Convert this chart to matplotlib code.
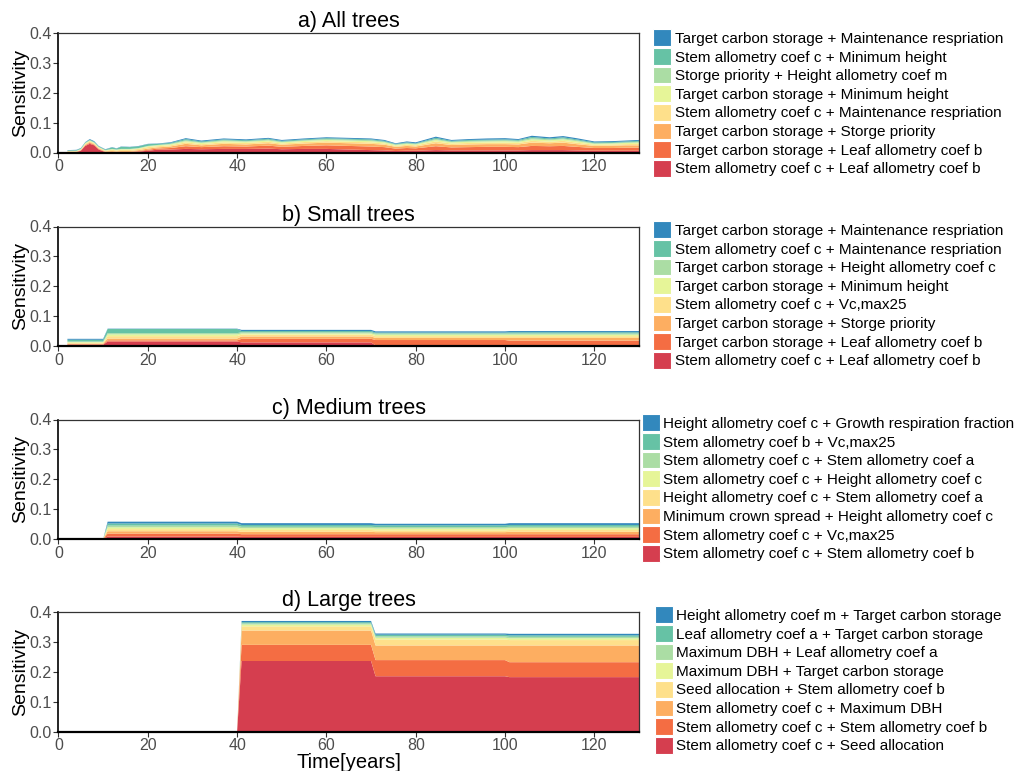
import matplotlib
matplotlib.use("Agg")
import matplotlib.pyplot as plt
from matplotlib.patches import Patch

plt.rcParams["font.family"] = ["Liberation Sans", "DejaVu Sans"]

# Spectral palette, bottom (red) to top (blue)
COLORS = ["#D53E4F", "#F46D43", "#FDAE61", "#FEE08B", "#E6F598", "#ABDDA4", "#66C2A5", "#3288BD"]

# ---- a) All trees ---------------------------------------------------------
x_a = [2, 4, 5, 6, 7, 8, 9, 10.5, 12, 13, 14, 16, 18, 20, 22, 25, 28.5, 32, 37, 42, 47, 50,
       55, 60, 65, 70, 73, 75.5, 78, 80, 84.5, 88, 92, 96, 100, 103, 106, 110, 113, 116,
       120, 124, 127, 130]
a_red = [.001, .001, .006, .022, .029, .024, .010, .001, .001, .001, .001, .001, .003, .006, .009, .010,
         .012, .011, .012, .012, .013, .011, .012, .012, .010, .008, .007, .005, .006, .006, .008, .007,
         .007, .007, .007, .007, .008, .008, .008, .007, .006, .006, .006, .006]
a_ored = [.001, .001, .001, .002, .003, .002, .002, .001, .001, .001, .001, .001, .002, .003, .004, .005,
          .009, .007, .009, .008, .010, .008, .010, .012, .012, .012, .011, .008, .009, .008, .013, .010,
          .011, .012, .012, .011, .014, .013, .014, .012, .009, .009, .010, .010]
a_lor = [.001, .001, .001, .002, .003, .002, .002, .002, .003, .002, .003, .003, .003, .004, .004, .005,
         .008, .006, .008, .007, .008, .007, .008, .009, .009, .009, .008, .006, .007, .006, .010, .008,
         .009, .009, .009, .009, .011, .010, .011, .009, .007, .008, .008, .008]
a_yel = [.001, .001, .002, .003, .003, .003, .003, .002, .004, .003, .004, .004, .004, .005, .004, .004,
         .005, .004, .005, .005, .005, .004, .005, .005, .005, .005, .004, .003, .004, .004, .006, .005,
         .005, .005, .005, .005, .006, .005, .006, .005, .004, .004, .004, .005]
a_lyel = [.001, .001, .001, .002, .002, .002, .001, .001, .002, .002, .002, .002, .002, .003, .003, .003,
          .004, .004, .004, .004, .004, .004, .004, .004, .004, .004, .004, .003, .003, .003, .005, .004,
          .004, .004, .005, .004, .005, .005, .005, .005, .003, .003, .004, .004]
a_lgrn = [.001, .001, .001, .001, .001, .001, .001, .001, .001, .001, .001, .001, .001, .001, .001, .002,
          .003, .002, .003, .002, .003, .002, .002, .003, .003, .003, .002, .002, .002, .002, .003, .002,
          .003, .003, .003, .003, .004, .003, .003, .003, .002, .002, .002, .003]
a_teal = [.001, .002, .002, .002, .002, .002, .002, .002, .005, .003, .007, .006, .006, .006, .004, .003,
          .004, .003, .003, .003, .003, .003, .003, .003, .003, .003, .003, .002, .003, .002, .004, .003,
          .003, .003, .003, .003, .004, .003, .004, .003, .003, .003, .003, .003]
a_blue = [.001, .001, .001, .001, .002, .002, .001, .001, .001, .001, .001, .001, .001, .001, .001, .002,
          .003, .003, .003, .003, .003, .003, .003, .003, .003, .003, .003, .002, .003, .003, .004, .003,
          .003, .004, .004, .003, .004, .004, .004, .004, .003, .003, .003, .003]
labels_a = [
    "Stem allometry coef c + Leaf allometry coef b",
    "Target carbon storage + Leaf allometry coef b",
    "Target carbon storage + Storge priority",
    "Stem allometry coef c + Maintenance respriation",
    "Target carbon storage + Minimum height",
    "Storge priority + Height allometry coef m",
    "Stem allometry coef c + Minimum height",
    "Target carbon storage + Maintenance respriation",
]

# ---- b) Small trees -------------------------------------------------------
x_b = [2, 10, 11, 40, 41, 70, 71, 100, 101, 130]
b_red = [.004, .004, .015, .015, .012, .012, .002, .002, .002, .002]
b_ored = [.002, .002, .004, .004, .012, .012, .018, .018, .016, .016]
b_lor = [.002, .002, .006, .006, .008, .008, .007, .007, .009, .009]
b_yel = [.003, .003, .008, .008, .006, .006, .006, .006, .006, .006]
b_lyel = [.002, .002, .006, .006, .004, .004, .005, .005, .005, .005]
b_lgrn = [.002, .002, .004, .004, .004, .004, .004, .004, .004, .004]
b_teal = [.006, .006, .014, .014, .004, .004, .003, .003, .004, .004]
b_blue = [.003, .003, .001, .001, .004, .004, .004, .004, .004, .004]
labels_b = [
    "Stem allometry coef c + Leaf allometry coef b",
    "Target carbon storage + Leaf allometry coef b",
    "Target carbon storage + Storge priority",
    "Stem allometry coef c + Vc,max25",
    "Target carbon storage + Minimum height",
    "Target carbon storage + Height allometry coef c",
    "Stem allometry coef c + Maintenance respriation",
    "Target carbon storage + Maintenance respriation",
]

# ---- c) Medium trees ------------------------------------------------------
x_c = [2, 10, 11, 40, 41, 70, 71, 100, 101, 130]
c_red = [0, 0, .008, .008, .007, .007, .007, .007, .007, .007]
c_ored = [0, 0, .010, .010, .009, .009, .009, .009, .009, .009]
c_lor = [0, 0, .008, .008, .008, .008, .007, .007, .008, .008]
c_yel = [0, 0, .007, .007, .006, .006, .006, .006, .006, .006]
c_lyel = [0, 0, .006, .006, .006, .006, .006, .006, .006, .006]
c_lgrn = [0, 0, .006, .006, .005, .005, .005, .005, .005, .005]
c_teal = [0, 0, .007, .007, .006, .006, .006, .006, .006, .006]
c_blue = [0, 0, .006, .006, .006, .006, .005, .005, .006, .006]
labels_c = [
    "Stem allometry coef c + Stem allometry coef b",
    "Stem allometry coef c + Vc,max25",
    "Minimum crown spread + Height allometry coef c",
    "Height allometry coef c + Stem allometry coef a",
    "Stem allometry coef c + Height allometry coef c",
    "Stem allometry coef c + Stem allometry coef a",
    "Stem allometry coef b + Vc,max25",
    "Height allometry coef c + Growth respiration fraction",
]

# ---- d) Large trees -------------------------------------------------------
x_d = [2, 40, 41, 70, 71, 100, 101, 130]
d_red = [0, 0, .236, .236, .185, .185, .182, .182]
d_ored = [0, 0, .054, .054, .054, .054, .050, .050]
d_lor = [0, 0, .048, .048, .049, .049, .056, .056]
d_yel = [0, 0, .014, .014, .020, .020, .018, .018]
d_lyel = [0, 0, .006, .006, .006, .006, .006, .006]
d_lgrn = [0, 0, .004, .004, .005, .005, .005, .005]
d_teal = [0, 0, .004, .004, .005, .005, .005, .005]
d_blue = [0, 0, .004, .004, .004, .004, .005, .005]
labels_d = [
    "Stem allometry coef c + Seed allocation",
    "Stem allometry coef c + Stem allometry coef b",
    "Stem allometry coef c + Maximum DBH",
    "Seed allocation + Stem allometry coef b",
    "Maximum DBH + Target carbon storage",
    "Maximum DBH + Leaf allometry coef a",
    "Leaf allometry coef a + Target carbon storage",
    "Height allometry coef m + Target carbon storage",
]

panels = [
    ("a) All trees", x_a, [a_red, a_ored, a_lor, a_yel, a_lyel, a_lgrn, a_teal, a_blue], labels_a),
    ("b) Small trees", x_b, [b_red, b_ored, b_lor, b_yel, b_lyel, b_lgrn, b_teal, b_blue], labels_b),
    ("c) Medium trees", x_c, [c_red, c_ored, c_lor, c_yel, c_lyel, c_lgrn, c_teal, c_blue], labels_c),
    ("d) Large trees", x_d, [d_red, d_ored, d_lor, d_yel, d_lyel, d_lgrn, d_teal, d_blue], labels_d),
]

W, H = 1020, 771
fig = plt.figure(figsize=(W / 100, H / 100), dpi=100)

ax_left, ax_right = 58.5, 639
ax_tops = [33, 226.5, 419.5, 612]
ax_h = 119.5
legend_centers = [103, 295, 488, 680]

for i, (title, x, layers, labels) in enumerate(panels):
    top = ax_tops[i]
    ax = fig.add_axes([ax_left / W, 1 - (top + ax_h) / H, (ax_right - ax_left) / W, ax_h / H])
    ax.stackplot(x, *layers, colors=COLORS, linewidth=0)
    ax.set_xlim(0, 130)
    ax.set_ylim(0, 0.4)
    ax.set_xticks([0, 20, 40, 60, 80, 100, 120])
    ax.set_yticks([0.0, 0.1, 0.2, 0.3, 0.4])
    ax.set_yticklabels(["0.0", "0.1", "0.2", "0.3", "0.4"])
    ax.tick_params(labelsize=11.5, labelcolor="#4D4D4D", color="#333333", length=3.5, width=0.8, pad=1.5)
    for sp in ax.spines.values():
        sp.set_color("#333333")
        sp.set_linewidth(0.9)
    ax.spines["bottom"].set_color("black")
    ax.spines["bottom"].set_linewidth(1.6)
    ax.spines["left"].set_color("black")
    ax.spines["left"].set_linewidth(1.2)
    ax.set_title(title, fontsize=15.5, pad=4)
    ax.set_ylabel("Sensitivity", fontsize=14, labelpad=0)
    if i == 3:
        ax.set_xlabel("Time[years]", fontsize=14.5, labelpad=0)

    handles = [Patch(facecolor=c, edgecolor="white", linewidth=0.8) for c in COLORS]
    fig.legend(
        handles[::-1], labels[::-1], loc="center",
        bbox_to_anchor=(828 / W, 1 - legend_centers[i] / H),
        frameon=False, fontsize=11, handlelength=1.2, handleheight=1.3,
        handletextpad=0.2, labelspacing=0.13, borderpad=0, borderaxespad=0,
    )

fig.savefig("out.png", dpi=100)
